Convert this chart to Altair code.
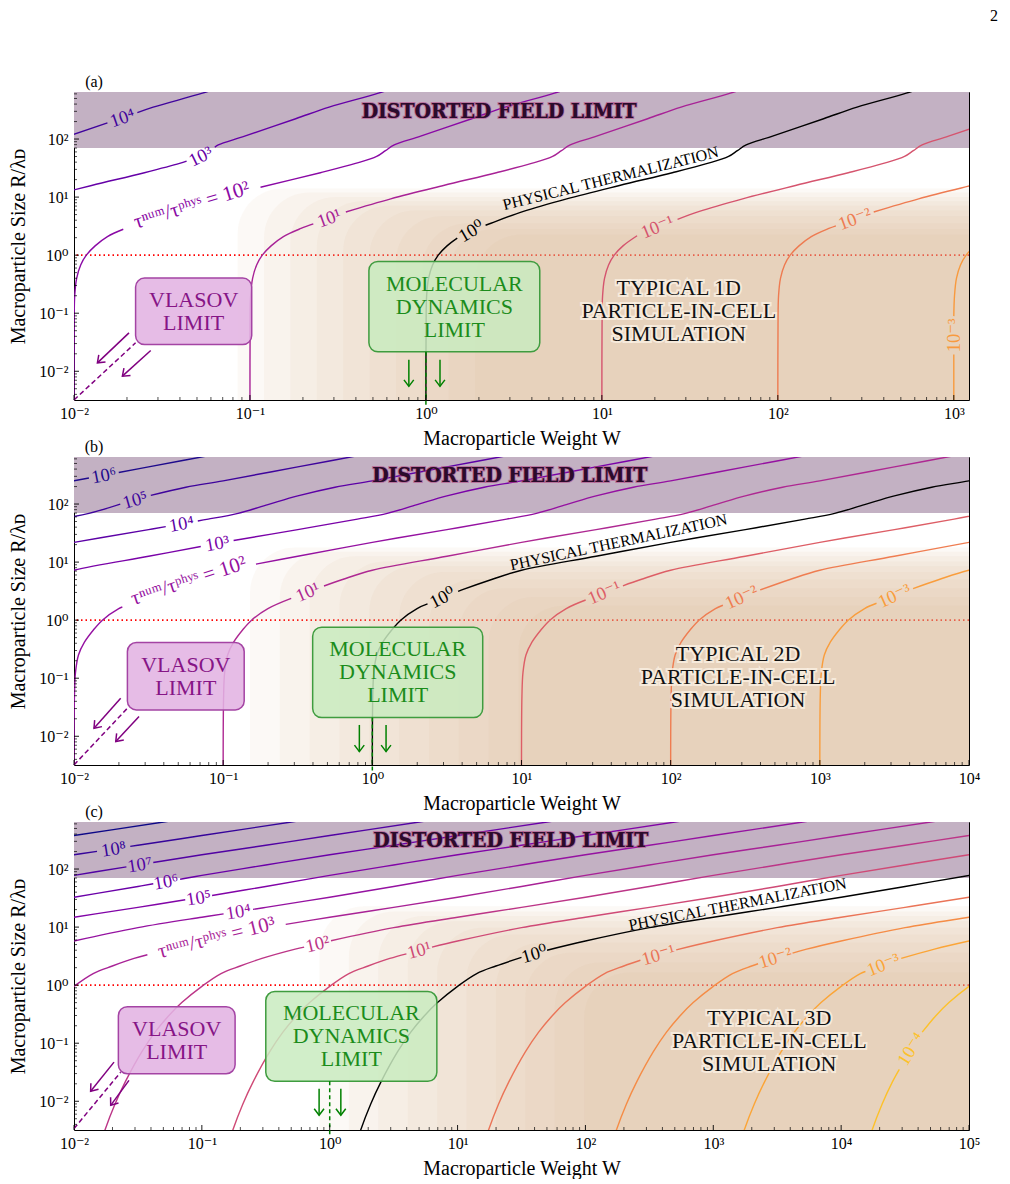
import altair as alt
import pandas as pd
import math

SERIF = "Liberation Serif, DejaVu Serif, serif"
SLAB = "DejaVu Serif Condensed, DejaVu Serif, serif"
PW, PH = 895, 308

# ---------------- shared ----------------
Y_DOMAIN = [0.0032, 646]
Y_TICK_EXP = [-2, -1, 0, 1, 2]
Y_TICK_TXT = ["10⁻²", "10⁻¹", "10⁰", "10¹", "10²"]
DFL_LOG_R = 1.845          # lower edge of distorted-field band, log10 R
RED_LINE_R = [1.0]
TYPICAL_TXT = ["TYPICAL 1D\nPARTICLE-IN-CELL\nSIMULATION",
               "TYPICAL 2D\nPARTICLE-IN-CELL\nSIMULATION",
               "TYPICAL 3D\nPARTICLE-IN-CELL\nSIMULATION"]

# ---------------- panel (a) ----------------
A_XDOM = [0.01, 1220]
A_XTICK_EXP = [-2, -1, 0, 1, 2, 3]
A_XTICK_TXT = ["10⁻²", "10⁻¹", "10⁰", "10¹", "10²", "10³"]
# contour polylines (log10 W, log10 R), split where the inline labels sit
A_C4 = [[(-2.03, 2.05), (-1.81, 2.278)],
        [(-1.64, 2.455), (-1.55, 2.55), (-1.27, 2.79), (-1.1, 2.96)]]
A_C3 = [[(-2.2, 0.97), (-1.9, 1.2), (-1.6, 1.42), (-1.4, 1.58), (-1.36, 1.62)],
        [(-1.2, 1.86), (-1.18, 1.90), (-1.03, 2.05), (-0.74, 2.35), (-0.55, 2.55), (-0.27, 2.79), (-0.1, 2.96)]]
A_C2 = [[(-2, -2.6), (-1.999, -1.2), (-1.996, -0.7), (-1.985, -0.4), (-1.962, -0.17), (-1.93, 0.0),
         (-1.88, 0.16), (-1.81, 0.32), (-1.72, 0.446)],
        [(-0.94, 1.169), (-0.6, 1.42), (-0.4, 1.58), (-0.28, 1.70), (-0.23, 1.80), (-0.18, 1.90),
         (-0.03, 2.05), (0.26, 2.35), (0.45, 2.55), (0.73, 2.79), (0.9, 2.96)]]
A_C1 = [[(-1, -2.6), (-0.999, -1.2), (-0.996, -0.7), (-0.985, -0.4), (-0.962, -0.17), (-0.93, 0.0),
         (-0.88, 0.16), (-0.81, 0.32), (-0.71, 0.46), (-0.64, 0.539)],
        [(-0.455, 0.744), (-0.2, 0.97), (0.1, 1.2), (0.4, 1.42), (0.6, 1.58), (0.72, 1.70), (0.77, 1.80),
         (0.82, 1.90), (0.97, 2.05), (1.26, 2.35), (1.45, 2.55), (1.73, 2.79), (1.9, 2.96)]]
A_C0 = [[(0, -2.6), (0.001, -1.2), (0.004, -0.7), (0.015, -0.4), (0.038, -0.17), (0.07, 0.0),
         (0.12, 0.16), (0.178, 0.293)],
        [(0.339, 0.515), (0.37, 0.55), (0.55, 0.75), (0.8, 0.97), (1.1, 1.2), (1.4, 1.42), (1.6, 1.58),
         (1.72, 1.70), (1.77, 1.80), (1.82, 1.90), (1.97, 2.05), (2.26, 2.35), (2.45, 2.55), (2.73, 2.79), (2.9, 2.96)]]
A_CM1 = [[(1, -2.6), (1.001, -1.2), (1.004, -0.7), (1.015, -0.4), (1.038, -0.17), (1.07, 0.0),
          (1.12, 0.16), (1.2, 0.334)],
         [(1.43, 0.617), (1.55, 0.75), (1.8, 0.97), (2.1, 1.2), (2.4, 1.42), (2.6, 1.58), (2.72, 1.70),
          (2.77, 1.80), (2.82, 1.90), (2.97, 2.05), (3.26, 2.35)]]
A_CM2 = [[(2, -2.6), (2.001, -1.2), (2.004, -0.7), (2.015, -0.4), (2.038, -0.17), (2.07, 0.0),
          (2.12, 0.16), (2.19, 0.32), (2.29, 0.46), (2.33, 0.505)],
         [(2.545, 0.744), (2.8, 0.97), (3.1, 1.2), (3.4, 1.42)]]
A_CM3 = [[(3, -2.6), (3, -1.71)],
         [(3.0, -1.05), (3.004, -0.7), (3.015, -0.4), (3.038, -0.17), (3.07, 0.0), (3.12, 0.16), (3.19, 0.32)]]
A_COLORS = ["#3f049c", "#6500a7", "#8a09a5", "#a82296", "black", "#d5546e", "#ee7b51", "#f89a3e"]
A_CONTOURS = [A_C4, A_C3, A_C2, A_C1, A_C0, A_CM1, A_CM2, A_CM3]
A_LABEL_TXT = ["10⁴", "10³", "τⁿᵘᵐ/τᵖʰʸˢ = 10²", "10¹", "10⁰", "10⁻¹", "10⁻²", "10⁻³"]
A_LABEL_W = [-1.725, -1.28, -1.33, -0.55, 0.258, 1.315, 2.437, 3.0]
A_LABEL_R = [2.366, 1.70, 0.856, 0.639, 0.415, 0.488, 0.624, -1.38]
A_LABEL_ANG = [341, 334, 343, 340, 330, 338, 340, 270]
A_BG_W = [-1.07, -0.92, -0.77, -0.62, -0.47, -0.32, -0.17, -0.02, 0.13, 0.28]
A_BG_R = [1.15, 1.08, 1.0, 0.93, 0.85, 0.77, 0.67, 0.55, 0.45, 0.35]
A_VLASOV = [-1.65, -0.99, -1.54, -0.394]
A_MD = [-0.324, 0.647, -1.665, -0.108]
A_TYPICAL = [1.437, -0.967]
A_DFL = [0.416, 2.47]
A_PHYS = [1.05, 1.32, 346]
A_ARROWS_P = [(-1.6875, -1.339, -1.867, -1.855), (-1.564, -1.643, -1.725, -2.084)]
A_DASH_P = [(-2.0, -2.494, -1.65, -1.51)]
A_ARROWS_G = [(-0.097, -1.8, -0.097, -2.26), (0.08, -1.8, 0.08, -2.26)]
A_DASH_G = [(0.0, -1.665, 0.0, -2.6)]

# ---------------- panel (b) ----------------
B_XDOM = [0.01, 10000]
B_XTICK_EXP = [-2, -1, 0, 1, 2, 3, 4]
B_XTICK_TXT = ["10⁻²", "10⁻¹", "10⁰", "10¹", "10²", "10³", "10⁴"]
B_C6 = [[(-2.25, 2.29), (-2, 2.40), (-1.9, 2.448)], [(-1.7, 2.544), (-1.5, 2.64), (-1, 2.88)]]
B_C5 = [[(-2.1, 1.74), (-1.9, 1.84), (-1.69, 1.998)],
        [(-1.485, 2.149), (-1.25, 2.29), (-1, 2.40), (-0.5, 2.64), (0, 2.88)]]
B_C4 = [[(-2.5, 1.1), (-2, 1.34), (-1.5, 1.56), (-1.385, 1.612)],
        [(-1.17, 1.709), (-1.1, 1.74), (-0.9, 1.84), (-0.7, 1.99), (-0.5, 2.14), (-0.25, 2.29), (0, 2.40),
         (0.5, 2.64), (1, 2.88)]]
B_C3 = [[(-2.2, 0.70), (-2, 0.86), (-1.5, 1.1), (-1.15, 1.268)],
        [(-0.93, 1.371), (-0.5, 1.56), (-0.1, 1.74), (0.1, 1.84), (0.3, 1.99), (0.5, 2.14), (0.75, 2.29),
         (1, 2.40), (1.5, 2.64), (2, 2.88)]]
B_C2 = [[(-2, -2.6), (-1.997, -1.3), (-1.99, -0.9), (-1.97, -0.6), (-1.93, -0.38), (-1.87, -0.17),
         (-1.81, 0.0), (-1.7, 0.2), (-1.676, 0.227)],
        [(-0.78, 0.966), (-0.5, 1.1), (0, 1.34), (0.5, 1.56), (0.9, 1.74), (1.1, 1.84), (1.3, 1.99),
         (1.5, 2.14), (1.75, 2.29), (2, 2.40), (2.5, 2.64), (3, 2.88)]]
B_C1 = [[(-1, -2.6), (-0.997, -1.3), (-0.99, -0.9), (-0.97, -0.6), (-0.93, -0.38), (-0.87, -0.17),
         (-0.81, 0.0), (-0.7, 0.2), (-0.544, 0.376)],
        [(-0.324, 0.588), (-0.2, 0.70), (0, 0.86), (0.5, 1.1), (1, 1.34), (1.5, 1.56), (1.9, 1.74),
         (2.1, 1.84), (2.3, 1.99), (2.5, 2.14), (2.75, 2.29), (3, 2.40), (3.5, 2.64), (4, 2.88)]]
B_C0 = [[(0, -2.6), (0.003, -1.3), (0.01, -0.9), (0.03, -0.6), (0.07, -0.38), (0.13, -0.17), (0.19, 0.0),
         (0.3, 0.2), (0.37, 0.279)],
        [(0.575, 0.495), (0.6, 0.52), (0.8, 0.70), (1.0, 0.86), (1.5, 1.1), (2.0, 1.34), (2.5, 1.56),
         (2.9, 1.74), (3.1, 1.84), (3.3, 1.99), (3.5, 2.14), (3.75, 2.29), (4.0, 2.40), (4.5, 2.64)]]
B_CM1 = [[(1, -2.6), (1.003, -1.3), (1.01, -0.9), (1.03, -0.6), (1.07, -0.38), (1.13, -0.17), (1.19, 0.0),
          (1.3, 0.2), (1.43, 0.347)],
         [(1.68, 0.592), (1.8, 0.70), (2.0, 0.86), (2.5, 1.1), (3.0, 1.34), (3.5, 1.56), (3.9, 1.74), (4.1, 1.84)]]
B_CM2 = [[(2, -2.6), (2.003, -1.3), (2.01, -0.9), (2.03, -0.6), (2.07, -0.38), (2.13, -0.17), (2.19, 0.0),
          (2.3, 0.2), (2.35, 0.257)],
         [(2.6, 0.52), (2.8, 0.70), (3.0, 0.86), (3.5, 1.1), (4.0, 1.34), (4.5, 1.56)]]
B_CM3 = [[(3, -2.6), (3.003, -1.3), (3.01, -0.9), (3.03, -0.6), (3.07, -0.38), (3.13, -0.17), (3.19, 0.0),
          (3.3, 0.2), (3.38, 0.291)],
         [(3.625, 0.543), (3.8, 0.70), (4.0, 0.86), (4.5, 1.1)]]
B_COLORS = ["#1e0a8c", "#3e049c", "#5c01a6", "#7a02a8", "#9511a1", "#ae2892", "black",
            "#dd5e66", "#ef7d51", "#f99d3c"]
B_CONTOURS = [B_C6, B_C5, B_C4, B_C3, B_C2, B_C1, B_C0, B_CM1, B_CM2, B_CM3]
B_LABEL_TXT = ["10⁶", "10⁵", "10⁴", "10³", "τⁿᵘᵐ/τᵖʰʸˢ = 10²", "10¹", "10⁰", "10⁻¹", "10⁻²", "10⁻³"]
B_LABEL_W = [-1.8, -1.59, -1.28, -1.04, -1.23, -0.434, 0.47, 1.555, 2.475, 3.5]
B_LABEL_R = [2.496, 2.073, 1.659, 1.321, 0.673, 0.486, 0.39, 0.475, 0.395, 0.42]
B_LABEL_ANG = [349, 344, 350, 350, 342, 337, 333, 337, 336, 336]
B_BG_W = [-0.82, -0.62, -0.42, -0.22, -0.02, 0.18, 0.38, 0.58, 0.78, 0.98]
B_BG_R = [1.25, 1.18, 1.1, 1.01, 0.93, 0.83, 0.7, 0.55, 0.4, 0.25]
B_VLASOV = [-1.642, -0.859, -1.546, -0.385]
B_MD = [-0.40, 0.74, -1.678, -0.121]
B_TYPICAL = [2.452, -0.971]
B_DFL = [0.921, 2.49]
B_PHYS = [1.651, 1.34, 348]
B_ARROWS_P = [(-1.687, -1.345, -1.866, -1.862), (-1.564, -1.66, -1.72, -2.09)]
B_DASH_P = [(-2.0, -2.494, -1.642, -1.517)]
B_ARROWS_G = [(-0.087, -1.805, -0.087, -2.264), (0.092, -1.805, 0.092, -2.264)]
B_DASH_G = [(0.0, -1.678, 0.0, -2.6)]

# ---------------- panel (c) ----------------
C_XDOM = [0.01, 100000]
C_XTICK_EXP = [-2, -1, 0, 1, 2, 3, 4, 5]
C_XTICK_TXT = ["10⁻²", "10⁻¹", "10⁰", "10¹", "10²", "10³", "10⁴", "10⁵"]
C_C9 = [[(-2.5, 2.41), (-2, 2.577), (-1.3, 2.81), (-1.0, 2.91)]]
C_C8 = [[(-2.5, 2.07), (-2, 2.246), (-1.82, 2.305)],
        [(-1.56, 2.39), (-1.5, 2.41), (-1, 2.577), (-0.3, 2.81), (0, 2.91)]]
C_C7 = [[(-2.5, 1.70), (-2, 1.89), (-1.59, 2.038)],
        [(-1.38, 2.112), (-1, 2.246), (-0.5, 2.41), (0, 2.577), (0.7, 2.81), (1.0, 2.91)]]
C_C6 = [[(-2.5, 1.34), (-2, 1.515), (-1.5, 1.70), (-1.38, 1.746)],
        [(-1.17, 1.825), (-1, 1.89), (-0.5, 2.07), (0, 2.246), (0.5, 2.41), (1, 2.577), (1.7, 2.81), (2.0, 2.91)]]
C_C5 = [[(-2.5, 0.99), (-2, 1.17), (-1.5, 1.34), (-1.13, 1.47)],
        [(-0.92, 1.545), (-0.5, 1.70), (0, 1.89), (0.5, 2.07), (1, 2.246), (1.5, 2.41), (2, 2.577),
         (2.7, 2.81), (3.0, 2.91)]]
C_C4 = [[(-2.27, 0.62), (-2, 0.76), (-1.5, 0.99), (-1, 1.17), (-0.83, 1.228)],
        [(-0.6, 1.306), (-0.5, 1.34), (0, 1.515), (0.5, 1.70), (1, 1.89), (1.5, 2.07), (2, 2.246), (2.5, 2.41),
         (3, 2.577), (3.7, 2.81), (4, 2.91)]]
C_C3 = [[(-2.157, -0.30), (-2, -0.02), (-1.85, 0.2), (-1.7, 0.33), (-1.53, 0.46), (-1.426, 0.524)],
        [(-0.344, 1.046), (0, 1.17), (0.5, 1.34), (1, 1.515), (1.5, 1.70), (2, 1.89), (2.5, 2.07), (3, 2.246),
         (3.5, 2.41), (4, 2.577), (4.7, 2.81), (5, 2.91)]]
C_C2 = [[(-1.8, -2.8), (-1.757, -2.49), (-1.68, -2.05), (-1.6, -1.67), (-1.47, -1.15), (-1.366, -0.81),
         (-1.261, -0.53), (-1.157, -0.30), (-1, -0.02), (-0.85, 0.2), (-0.7, 0.33), (-0.53, 0.46),
         (-0.27, 0.62), (-0.2, 0.656)],
        [(0.01, 0.765), (0.5, 0.99), (1, 1.17), (1.5, 1.34), (2, 1.515), (2.5, 1.70), (3, 1.89), (3.5, 2.07),
         (4, 2.246), (4.5, 2.41), (5, 2.577), (5.5, 2.74)]]
C_C1 = [[(-0.8, -2.8), (-0.757, -2.49), (-0.68, -2.05), (-0.6, -1.67), (-0.47, -1.15), (-0.366, -0.81),
         (-0.261, -0.53), (-0.157, -0.30), (0, -0.02), (0.15, 0.2), (0.3, 0.33), (0.47, 0.46), (0.6, 0.54)],
        [(0.8, 0.656), (1, 0.76), (1.5, 0.99), (2, 1.17), (2.5, 1.34), (3, 1.515), (3.5, 1.70), (4, 1.89),
         (4.5, 2.07), (5, 2.246), (5.5, 2.41)]]
C_C0 = [[(0.2, -2.8), (0.243, -2.49), (0.32, -2.05), (0.4, -1.67), (0.53, -1.15), (0.634, -0.81),
         (0.739, -0.53), (0.843, -0.30), (1.0, -0.02), (1.15, 0.2), (1.3, 0.33), (1.5, 0.478)],
        [(1.7, 0.602), (2.0, 0.76), (2.5, 0.99), (3.0, 1.17), (3.5, 1.34), (4.0, 1.515), (4.5, 1.70),
         (5.0, 1.89), (5.5, 2.07)]]
C_CM1 = [[(1.2, -2.8), (1.243, -2.49), (1.32, -2.05), (1.4, -1.67), (1.53, -1.15), (1.634, -0.81),
          (1.739, -0.53), (1.843, -0.30), (2.0, -0.02), (2.15, 0.2), (2.3, 0.33), (2.43, 0.429)],
         [(2.71, 0.608), (3.0, 0.76), (3.5, 0.99), (4.0, 1.17), (4.5, 1.34), (5.0, 1.515), (5.5, 1.70)]]
C_CM2 = [[(2.2, -2.8), (2.243, -2.49), (2.32, -2.05), (2.4, -1.67), (2.53, -1.15), (2.634, -0.81),
          (2.739, -0.53), (2.843, -0.30), (3.0, -0.02), (3.15, 0.2), (3.3, 0.33), (3.35, 0.368)],
         [(3.62, 0.552), (3.73, 0.62), (4.0, 0.76), (4.5, 0.99), (5.0, 1.17), (5.5, 1.34)]]
C_CM3 = [[(3.2, -2.8), (3.243, -2.49), (3.32, -2.05), (3.4, -1.67), (3.53, -1.15), (3.634, -0.81),
          (3.739, -0.53), (3.843, -0.30), (4.0, -0.02), (4.15, 0.2), (4.19, 0.235)],
         [(4.47, 0.46), (4.73, 0.62), (5.0, 0.76), (5.5, 0.99)]]
C_CM4 = [[(4.2, -2.8), (4.243, -2.49), (4.32, -2.05), (4.4, -1.67), (4.455, -1.45)],
         [(4.634, -0.81), (4.739, -0.53), (4.843, -0.30), (5.0, -0.02), (5.15, 0.2)]]
C_COLORS = ["#0d0887", "#35049a", "#5102a3", "#6a00a8", "#8104a7", "#9512a1", "#a82296", "#bc3587",
            "#cf4a76", "black", "#ea7457", "#f58c46", "#fba537", "#fdc12a"]
C_CONTOURS = [C_C9, C_C8, C_C7, C_C6, C_C5, C_C4, C_C3, C_C2, C_C1, C_C0, C_CM1, C_CM2, C_CM3, C_CM4]
C_LABEL_TXT = [None, "10⁸", "10⁷", "10⁶", "10⁵", "10⁴", "τⁿᵘᵐ/τᵖʰʸˢ = 10³", "10²", "10¹", "10⁰",
               "10⁻¹", "10⁻²", "10⁻³", "10⁻⁴"]
C_LABEL_W = [None, -1.69, -1.485, -1.28, -1.025, -0.715, -0.885, -0.095, 0.7, 1.6, 2.57, 3.485, 4.33, 4.545]
C_LABEL_R = [None, 2.348, 2.075, 1.784, 1.506, 1.267, 0.813, 0.711, 0.602, 0.54, 0.52, 0.47, 0.352, -1.10]
C_LABEL_ANG = [None, 351, 351, 350, 351, 351, 346, 347, 345, 344, 344, 343, 339, 302]
C_BG_W = [-0.08, 0.15, 0.38, 0.61, 0.84, 1.07, 1.3, 1.53, 1.76, 1.99]
C_BG_R = [1.36, 1.27, 1.19, 1.1, 0.99, 0.87, 0.73, 0.56, 0.39, 0.22]
C_VLASOV = [-1.653, -0.74, -1.526, -0.371]
C_MD = [-0.5, 0.838, -1.657, -0.109]
C_TYPICAL = [3.438, -0.954]
C_DFL = [1.416, 2.49]
C_PHYS = [3.19, 1.39, 349]
C_ARROWS_P = [(-1.687, -1.326, -1.87, -1.829), (-1.57, -1.64, -1.713, -2.07)]
C_DASH_P = [(-2.0, -2.47, -1.635, -1.50)]
C_ARROWS_G = [(-0.083, -1.783, -0.083, -2.24), (0.087, -1.783, 0.087, -2.24)]
C_DASH_G = [(0.0, -1.657, 0.0, -2.6)]

CHEVRON = "M -1 -0.75 L 0 0 L -1 0.75"
PX_PER_DEC_Y = PH / 5.304


def sup_expr(exps, texts):
    expr = "''"
    for e, t in zip(reversed(exps), reversed(texts)):
        expr = f"(round(log(datum.value)/LN10) == {e}) ? '{t}' : ({expr})"
    return expr


def make_panel(tag, xdom, xexp, xtxt, contours, colors, ltxt, lw, lr, lang,
               bg_w, bg_r, vbox, mbox, typical_pos, typical_txt, dfl, phys,
               arr_p, dash_p, arr_g, dash_g, page=False):
    xsc = alt.Scale(type="log", domain=xdom, nice=False)
    ysc = alt.Scale(type="log", domain=Y_DOMAIN, nice=False)
    X = alt.X("W:Q", scale=xsc, axis=alt.Axis(
        values=[10.0 ** e for e in xexp], labelExpr=sup_expr(xexp, xtxt),
        title="Macroparticle Weight W", ticks=False, domain=False, grid=False,
        labelFlush=False, labelOverlap=False, labelPadding=5, titlePadding=7))
    Y = alt.Y("R:Q", scale=ysc, axis=alt.Axis(
        values=[10.0 ** e for e in Y_TICK_EXP], labelExpr=sup_expr(Y_TICK_EXP, Y_TICK_TXT),
        title="Macroparticle Size R/λᴅ", ticks=False, domain=False, grid=False,
        labelFlush=False, labelOverlap=False, labelPadding=6, titlePadding=10))
    X2 = alt.X2("W2:Q")
    Y2 = alt.Y2("R2:Q")
    L = []

    band = pd.DataFrame({"W": [1e-6], "W2": [1e10], "R": [10 ** DFL_LOG_R], "R2": [1e6]})
    L.append(alt.Chart(band).mark_rect(color="#c3b1c3", clip=True).encode(x=X, x2=X2, y=Y, y2=Y2))

    red = pd.DataFrame({"R": RED_LINE_R})
    L.append(alt.Chart(red).mark_rule(color="red", strokeDash=[1.5, 3], strokeWidth=1.6).encode(y=Y))

    bg = pd.DataFrame({"W": [10 ** v for v in bg_w], "W2": 1e10, "R": 1e-6, "R2": [10 ** v for v in bg_r]})
    L.append(alt.Chart(bg).mark_rect(color="#deb887", opacity=0.078, cornerRadius=45, clip=True)
             .encode(x=X, x2=X2, y=Y, y2=Y2))

    rows = []
    for ci, (segs, col) in enumerate(zip(contours, colors)):
        for si, seg in enumerate(segs):
            for i, (a, b) in enumerate(seg):
                rows.append({"W": 10 ** a, "R": 10 ** b, "seg": f"{ci}-{si}", "i": i, "col": col})
    cdf = pd.DataFrame(rows)
    L.append(alt.Chart(cdf).mark_line(interpolate="catmull-rom", strokeWidth=1.4, clip=True).encode(
        x=X, y=Y, detail="seg:N", order=alt.Order("i:Q"), color=alt.Color("col:N", scale=None)))

    lrows = []
    for t, a, b, ang, col in zip(ltxt, lw, lr, lang, colors):
        if t is None:
            continue
        fs = 21 if t.startswith("τ") else 18.5
        lrows.append({"W": 10 ** a, "R": 10 ** b, "t": t, "ang": ang, "col": col, "fs": fs})
    ldf = pd.DataFrame(lrows)
    L.append(alt.Chart(ldf).mark_text(font=SERIF, align="center", baseline="middle").encode(
        x=X, y=Y, text="t:N", angle=alt.Angle("ang:Q", scale=None), color=alt.Color("col:N", scale=None),
        size=alt.Size("fs:Q", scale=None)))

    # distorted field label
    ddf = pd.DataFrame({"W": [10 ** dfl[0]], "R": [10 ** dfl[1]], "t": ["DISTORTED FIELD LIMIT"]})
    L.append(alt.Chart(ddf).mark_text(font=SLAB, fontWeight="bold", fontSize=21, fill="#2b0b2b",
                                      stroke="#b0407f", strokeWidth=2.2, strokeOpacity=0.55)
             .encode(x=X, y=Y, text="t:N"))
    L.append(alt.Chart(ddf).mark_text(font=SLAB, fontWeight="bold", fontSize=21, color="#2b0b2b")
             .encode(x=X, y=Y, text="t:N"))

    pdf = pd.DataFrame({"W": [10 ** phys[0]], "R": [10 ** phys[1]], "t": ["PHYSICAL THERMALIZATION"]})
    L.append(alt.Chart(pdf).mark_text(font=SERIF, fontSize=16, color="black", angle=phys[2])
             .encode(x=X, y=Y, text="t:N"))

    tdf = pd.DataFrame({"W": [10 ** typical_pos[0]], "R": [10 ** typical_pos[1]], "t": [typical_txt]})
    L.append(alt.Chart(tdf).mark_text(font=SERIF, fontSize=22, lineBreak="\n", lineHeight=23, dy=-23,
                                      fill="#fbf1e4", stroke="#fbf1e4", strokeWidth=4, strokeOpacity=0.8)
             .encode(x=X, y=Y, text="t:N"))
    L.append(alt.Chart(tdf).mark_text(font=SERIF, fontSize=22, lineBreak="\n", lineHeight=23, dy=-23,
                                      color="#111111")
             .encode(x=X, y=Y, text="t:N"))

    # boxes
    vdf = pd.DataFrame({"W": [10 ** vbox[0]], "W2": [10 ** vbox[1]], "R": [10 ** vbox[2]], "R2": [10 ** vbox[3]]})
    L.append(alt.Chart(vdf).mark_rect(cornerRadius=9, fill="#e2b3e2", fillOpacity=0.88, stroke="#a444a4",
                                      strokeWidth=1.5).encode(x=X, x2=X2, y=Y, y2=Y2))
    mdf = pd.DataFrame({"W": [10 ** mbox[0]], "W2": [10 ** mbox[1]], "R": [10 ** mbox[2]], "R2": [10 ** mbox[3]]})
    L.append(alt.Chart(mdf).mark_rect(cornerRadius=9, fill="#c9ebc0", fillOpacity=0.85, stroke="#3f9c3f",
                                      strokeWidth=1.5).encode(x=X, x2=X2, y=Y, y2=Y2))
    vt = pd.DataFrame({"W": [10 ** ((vbox[0] + vbox[1]) / 2)], "R": [10 ** ((vbox[2] + vbox[3]) / 2)],
                       "t": ["VLASOV\nLIMIT"]})
    L.append(alt.Chart(vt).mark_text(font=SERIF, fontSize=22, lineBreak="\n", lineHeight=23, dy=-11.5,
                                     color="#861586")
             .encode(x=X, y=Y, text="t:N"))
    mt = pd.DataFrame({"W": [10 ** ((mbox[0] + mbox[1]) / 2)], "R": [10 ** ((mbox[2] + mbox[3]) / 2)],
                       "t": ["MOLECULAR\nDYNAMICS\nLIMIT"]})
    L.append(alt.Chart(mt).mark_text(font=SERIF, fontSize=22, lineBreak="\n", lineHeight=23, dy=-23,
                                     color="#1b8c1b")
             .encode(x=X, y=Y, text="t:N"))

    # arrows
    def seg_df(items):
        return pd.DataFrame({"W": [10 ** s[0] for s in items], "R": [10 ** s[1] for s in items],
                             "W2": [10 ** s[2] for s in items], "R2": [10 ** s[3] for s in items]})

    def head_df(items, xdec):
        out = []
        for s in items:
            dx = (s[2] - s[0]) * xdec
            dy = -(s[3] - s[1]) * PX_PER_DEC_Y
            ang = math.degrees(math.atan2(dy, dx)) % 360
            out.append({"W": 10 ** s[2], "R": 10 ** s[3], "ang": ang})
        return pd.DataFrame(out)

    xdec = PW / (math.log10(xdom[1]) - math.log10(xdom[0]))
    L.append(alt.Chart(seg_df(dash_p)).mark_rule(color="#800080", strokeWidth=1.5, strokeDash=[5, 3])
             .encode(x=X, x2=X2, y=Y, y2=Y2))
    L.append(alt.Chart(seg_df(arr_p)).mark_rule(color="#800080", strokeWidth=1.5)
             .encode(x=X, x2=X2, y=Y, y2=Y2))
    L.append(alt.Chart(head_df(arr_p, xdec)).mark_point(shape=CHEVRON, filled=False, color="#800080",
                                                         strokeWidth=1.5, size=170, opacity=1)
             .encode(x=X, y=Y, angle=alt.Angle("ang:Q", scale=None)))
    L.append(alt.Chart(seg_df(dash_g)).mark_rule(color="#008000", strokeWidth=1.5, strokeDash=[4, 3])
             .encode(x=X, x2=X2, y=Y, y2=Y2))
    L.append(alt.Chart(seg_df(arr_g)).mark_rule(color="#008000", strokeWidth=1.5)
             .encode(x=X, x2=X2, y=Y, y2=Y2))
    L.append(alt.Chart(head_df(arr_g, xdec)).mark_point(shape=CHEVRON, filled=False, color="#008000",
                                                         strokeWidth=1.5, size=170, opacity=1)
             .encode(x=X, y=Y, angle=alt.Angle("ang:Q", scale=None)))

    # inward ticks
    lo, hi = math.log10(xdom[0]), math.log10(xdom[1])
    xmaj, xmin = [], []
    for d in range(-3, 7):
        for m in range(1, 10):
            v = m * 10.0 ** d
            if lo - 1e-9 <= math.log10(v) <= hi + 1e-9:
                (xmaj if m == 1 else xmin).append(v)
    ymaj, ymin = [], []
    ylo, yhi = math.log10(Y_DOMAIN[0]), math.log10(Y_DOMAIN[1])
    for d in range(-4, 4):
        for m in range(1, 10):
            v = m * 10.0 ** d
            if ylo <= math.log10(v) <= yhi:
                (ymaj if m == 1 else ymin).append(v)
    L.append(alt.Chart(pd.DataFrame({"W": xmaj})).mark_rule(color="black", strokeWidth=0.9)
             .encode(x=X, y=alt.value(PH), y2=alt.value(PH - 5)))
    L.append(alt.Chart(pd.DataFrame({"W": xmin})).mark_rule(color="black", strokeWidth=0.7)
             .encode(x=X, y=alt.value(PH), y2=alt.value(PH - 3)))
    L.append(alt.Chart(pd.DataFrame({"R": ymaj})).mark_rule(color="black", strokeWidth=0.9)
             .encode(y=Y, x=alt.value(0), x2=alt.value(5)))
    L.append(alt.Chart(pd.DataFrame({"R": ymin})).mark_rule(color="black", strokeWidth=0.7)
             .encode(y=Y, x=alt.value(0), x2=alt.value(3)))

    L.append(alt.Chart(pd.DataFrame({"t": [tag]})).mark_text(font=SERIF, fontSize=16, color="black")
             .encode(x=alt.value(20), y=alt.value(-10), text="t:N"))
    if page:
        L.append(alt.Chart(pd.DataFrame({"t": ["2"]})).mark_text(font=SERIF, fontSize=16, color="black")
                 .encode(x=alt.value(920), y=alt.value(-76), text="t:N"))

    return alt.layer(*L).properties(width=PW, height=PH)


pa = make_panel("(a)", A_XDOM, A_XTICK_EXP, A_XTICK_TXT, A_CONTOURS, A_COLORS, A_LABEL_TXT, A_LABEL_W,
                A_LABEL_R, A_LABEL_ANG, A_BG_W, A_BG_R, A_VLASOV, A_MD, A_TYPICAL, TYPICAL_TXT[0], A_DFL,
                A_PHYS, A_ARROWS_P, A_DASH_P, A_ARROWS_G, A_DASH_G, page=True)
pb = make_panel("(b)", B_XDOM, B_XTICK_EXP, B_XTICK_TXT, B_CONTOURS, B_COLORS, B_LABEL_TXT, B_LABEL_W,
                B_LABEL_R, B_LABEL_ANG, B_BG_W, B_BG_R, B_VLASOV, B_MD, B_TYPICAL, TYPICAL_TXT[1], B_DFL,
                B_PHYS, B_ARROWS_P, B_DASH_P, B_ARROWS_G, B_DASH_G)
pc = make_panel("(c)", C_XDOM, C_XTICK_EXP, C_XTICK_TXT, C_CONTOURS, C_COLORS, C_LABEL_TXT, C_LABEL_W,
                C_LABEL_R, C_LABEL_ANG, C_BG_W, C_BG_R, C_VLASOV, C_MD, C_TYPICAL, TYPICAL_TXT[2], C_DFL,
                C_PHYS, C_ARROWS_P, C_DASH_P, C_ARROWS_G, C_DASH_G)

chart = alt.vconcat(pa, pb, pc, spacing=57, bounds="flush").properties(
    padding={"left": 8, "top": 7, "right": 0, "bottom": 0}
).configure_view(stroke="black", strokeWidth=1).configure_axis(
    labelFont=SERIF, titleFont=SERIF, labelFontSize=16, titleFontSize=20, labelColor="black",
    titleColor="black", titleFontWeight="normal"
)

chart.save("out.html", embed_options={"renderer": "svg", "actions": False})
